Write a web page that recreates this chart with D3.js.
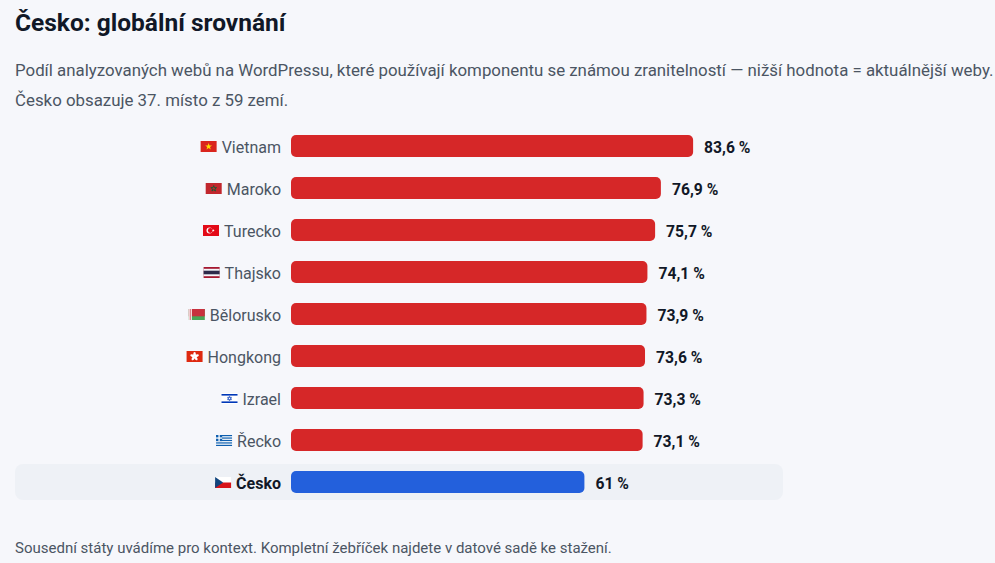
<!DOCTYPE html>
<html lang="cs">
<head>
<meta charset="UTF-8" />
<script src="https://d3js.org/d3.v7.min.js"></script>
<title>Česko: globální srovnání</title>
<style>
  html, body { margin: 0; padding: 0; background: #f6f7fb; }
  svg { display: block; font-family: Roboto, "Noto Sans", sans-serif; }
</style>
</head>
<body>
<svg id="chart"></svg>
<script>
var w = 995;
var h = 563;

// data
var countries = ["Vietnam", "Maroko", "Turecko", "Thajsko", "Bělorusko", "Hongkong", "Izrael", "Řecko", "Česko"];
var values = [83.6, 76.9, 75.7, 74.1, 73.9, 73.6, 73.3, 73.1, 61];
var flags = ["vn", "ma", "tr", "th", "by", "hk", "il", "gr", "cz"];
var highlight = "Česko";

var title = "Česko: globální srovnání";
var subtitle = [
  "Podíl analyzovaných webů na WordPressu, které používají komponentu se známou zranitelností — nižší hodnota = aktuálnější weby.",
  "Česko obsazuje 37. místo z 59 zemí."
];
var footnote = "Sousední státy uvádíme pro kontext. Kompletní žebříček najdete v datové sadě ke stažení.";

var rows = countries.map(function (c, i) {
  return { name: c, value: values[i], flag: flags[i] };
});

var cz = d3.formatLocale({ decimal: ",", thousands: " ", grouping: [3], currency: ["", " Kč"] });
var fmt = cz.format(".1~f");

var svg = d3.select("#chart").attr("width", w).attr("height", h);

svg.append("text")
  .attr("x", 15).attr("y", 31)
  .attr("font-size", 24.5).attr("font-weight", 700)
  .attr("fill", "#111827")
  .text(title);

svg.selectAll("text.sub")
  .data(subtitle)
  .enter()
  .append("text")
  .attr("class", "sub")
  .attr("x", 15)
  .attr("y", function (d, i) { return 76 + i * 30; })
  .attr("font-size", 16.85)
  .attr("fill", "#4b5563")
  .text(function (d) { return d; });

var x = d3.scaleLinear().domain([0, 100]).range([291, 772]);
var y = d3.scaleBand().domain(countries).range([125, 503])
  .paddingInner(20 / 42).paddingOuter(10 / 42);

// highlight row background
svg.append("rect")
  .attr("x", 15)
  .attr("y", y(highlight) + y.bandwidth() / 2 - 18)
  .attr("width", 768)
  .attr("height", 36)
  .attr("rx", 8)
  .attr("fill", "#eef1f6");

var row = svg.selectAll("g.row")
  .data(rows)
  .enter()
  .append("g")
  .attr("class", "row")
  .attr("transform", function (d) { return "translate(0," + y(d.name) + ")"; });

row.append("rect")
  .attr("x", x(0))
  .attr("y", 0)
  .attr("width", function (d) { return x(d.value) - x(0); })
  .attr("height", y.bandwidth())
  .attr("rx", 5)
  .attr("fill", function (d) { return d.name === highlight ? "#2360dc" : "#d62728"; });

row.append("text")
  .attr("x", function (d) { return x(d.value) + 11; })
  .attr("y", y.bandwidth() / 2 + 1)
  .attr("dy", "0.36em")
  .attr("font-size", 15.7)
  .attr("font-weight", 700)
  .attr("fill", "#111827")
  .text(function (d) { return fmt(d.value) + " %"; });

var labels = row.append("text")
  .attr("x", 281)
  .attr("y", y.bandwidth() / 2 + 1)
  .attr("dy", "0.36em")
  .attr("text-anchor", "end")
  .attr("font-size", 16)
  .attr("font-weight", function (d) { return d.name === highlight ? 700 : 400; })
  .attr("fill", function (d) { return d.name === highlight ? "#111827" : "#4b5563"; })
  .text(function (d) { return d.name; });

// small drawn flags left of each name
var fw = 16, fh = 11;
labels.each(function (d) {
  var len = this.getComputedTextLength();
  var g = d3.select(this.parentNode).append("g")
    .attr("transform", "translate(" + (281 - len - 5 - fw) + "," + (y.bandwidth() / 2 - fh / 2 + 0.5) + ")");
  drawFlag(g, d.flag);
});

function star(cx, cy, r) {
  var pts = [];
  for (var i = 0; i < 10; i++) {
    var a = -Math.PI / 2 + i * Math.PI / 5;
    var rr = i % 2 === 0 ? r : r * 0.4;
    pts.push([cx + rr * Math.cos(a), cy + rr * Math.sin(a)]);
  }
  return "M" + pts.join("L") + "Z";
}

function drawFlag(g, code) {
  var bg = function (c) { g.append("rect").attr("width", fw).attr("height", fh).attr("fill", c); };
  var band = function (yy, hh, c) { g.append("rect").attr("y", yy).attr("width", fw).attr("height", hh).attr("fill", c); };
  if (code === "vn") {
    bg("#da251d");
    g.append("path").attr("d", star(8, 5.6, 3.6)).attr("fill", "#ffde00");
  } else if (code === "ma") {
    bg("#c1272d");
    g.append("path").attr("d", star(8, 5.6, 3)).attr("fill", "none").attr("stroke", "#006233").attr("stroke-width", 0.8);
  } else if (code === "tr") {
    bg("#e30a17");
    g.append("circle").attr("cx", 6.5).attr("cy", 5.5).attr("r", 3).attr("fill", "#fff");
    g.append("circle").attr("cx", 7.3).attr("cy", 5.5).attr("r", 2.4).attr("fill", "#e30a17");
    g.append("path").attr("d", star(10.3, 5.5, 1.4)).attr("fill", "#fff");
  } else if (code === "th") {
    bg("#a51931");
    band(1.8, 7.4, "#f4f5f8");
    band(3.7, 3.6, "#2d2a4a");
  } else if (code === "by") {
    bg("#4aa657");
    band(0, 7.3, "#c8313e");
    g.append("rect").attr("width", 3).attr("height", fh).attr("fill", "#fff");
    g.append("rect").attr("x", 0.8).attr("width", 1.4).attr("height", fh).attr("fill", "#c8313e").attr("opacity", 0.6);
  } else if (code === "hk") {
    bg("#de2910");
    for (var k = 0; k < 5; k++) {
      g.append("ellipse")
        .attr("cx", 8).attr("cy", 3.3).attr("rx", 1.3).attr("ry", 2.3)
        .attr("fill", "#fff")
        .attr("transform", "rotate(" + (k * 72) + ",8,5.5)");
    }
  } else if (code === "il") {
    bg("#fff");
    band(1, 1.6, "#0038b8");
    band(8.4, 1.6, "#0038b8");
    g.append("path").attr("d", "M8,3.3L10,6.7L6,6.7Z M8,7.7L10,4.3L6,4.3Z")
      .attr("fill", "none").attr("stroke", "#0038b8").attr("stroke-width", 0.6);
  } else if (code === "gr") {
    bg("#fff");
    for (var s = 0; s < 9; s += 2) band(s * fh / 9, fh / 9, "#0d5eaf");
    g.append("rect").attr("width", 6.1).attr("height", 6.1).attr("fill", "#0d5eaf");
    g.append("rect").attr("x", 2.4).attr("width", 1.3).attr("height", 6.1).attr("fill", "#fff");
    g.append("rect").attr("y", 2.4).attr("width", 6.1).attr("height", 1.3).attr("fill", "#fff");
  } else if (code === "cz") {
    bg("#fff");
    band(fh / 2, fh / 2, "#d7141a");
    g.append("path").attr("d", "M0,0L8,5.5L0,11Z").attr("fill", "#11457e");
  }
}

svg.append("text")
  .attr("x", 15).attr("y", 553)
  .attr("font-size", 15)
  .attr("fill", "#4b5563")
  .text(footnote);
</script>
</body>
</html>
